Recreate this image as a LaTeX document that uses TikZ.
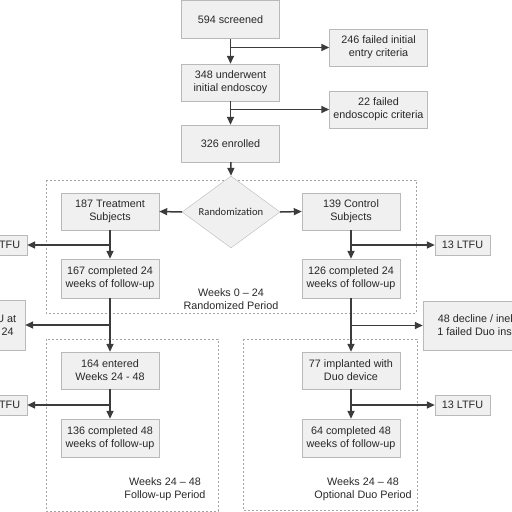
\documentclass[tikz,border=0pt]{standalone}
\usepackage{fontspec}
\setmainfont{Liberation Sans}
\newfontfamily\diafont{Carlito}
\usetikzlibrary{shapes.geometric, arrows.meta, positioning}
\definecolor{boxfill}{RGB}{240,240,240}
\definecolor{boxline}{RGB}{185,185,185}
\definecolor{arrowgray}{RGB}{60,60,60}
\definecolor{dashgray}{RGB}{165,165,165}
\definecolor{textgray}{RGB}{40,40,40}

\begin{document}
\begin{tikzpicture}[x=1pt, y=-1pt,
    box/.style={draw=boxline, fill=boxfill, align=center, text=textgray, minimum width=98pt, minimum height=37pt, inner sep=2pt, font=\fontsize{10.8}{13}\selectfont},
    smallbox/.style={box, minimum width=55pt, minimum height=20pt},
    decision/.style={diamond, draw=boxline, fill=boxfill, text=textgray, minimum width=98pt, minimum height=60pt, inner sep=0pt, font=\diafont\fontsize{10.6}{12}\selectfont},
    arr/.style={-{Triangle[length=8pt, width=7pt]}, line width=1.5pt, draw=arrowgray},
    period/.style={draw=dashgray, line width=0.6pt, dash pattern=on 2pt off 2pt},
    lbl/.style={align=center, text=textgray, font=\fontsize{10.8}{13}\selectfont}]
    \clip (0,0) rectangle (512,512);

    % Period frames
    \draw[period] (46,180) rectangle (416,313);
    \draw[period] (46,339) rectangle (218,511);
    \draw[period] (243,339) rectangle (417,510);

    % Screening and enrollment
    \node[box, minimum height=38pt] (screen) at (230.5,19.5) {594 screened};
    \node[box] (failentry) at (378.5,47.5) {246 failed initial\\entry criteria};
    \node[box] (endo) at (230.5,82.5) {348 underwent\\initial endoscoy};
    \node[box] (failendo) at (378.5,109.5) {22 failed\\endoscopic criteria};
    \node[box] (enrol) at (230.5,143.5) {326 enrolled};

    % Randomized period
    \node[decision] (rand) at (231,212) {Randomization};
    \node[box] (treat) at (110,211.5) {187 Treatment\\Subjects};
    \node[box] (ctrl) at (351,211.5) {139 Control\\Subjects};
    \node[smallbox] (ltfutreat) at (-0.5,245) {20 LTFU};
    \node[smallbox] (ltfuctrl) at (462.5,245) {13 LTFU};
    \node[box, minimum height=39pt] (donetreat) at (110,278.5) {167 completed 24\\weeks of follow-up};
    \node[box, minimum height=39pt] (donectrl) at (351,278.5) {126 completed 24\\weeks of follow-up};
    \node[lbl] (randlbl) at (231,299.5) {Weeks 0 -- 24\\Randomized Period};

    % Between periods
    \node[box, minimum width=65pt, minimum height=50pt] (ltfuwk) at (-7.5,325) {3 LTFU at\\Week 24};
    \node[box, minimum width=130pt, minimum height=49pt] (decline) at (488,325.5) {48 decline / ineligible\\1 failed Duo insertion};

    % Weeks 24 - 48
    \node[box] (entered) at (110,370.5) {164 entered\\Weeks 24 - 48};
    \node[box] (implant) at (351,370.5) {77 implanted with\\Duo device};
    \node[smallbox] (ltfufollow) at (-0.5,405) {28 LTFU};
    \node[smallbox] (ltfuduo) at (462.5,405) {13 LTFU};
    \node[box, minimum height=38pt] (donefollow) at (110,438) {136 completed 48\\weeks of follow-up};
    \node[box, minimum height=38pt] (doneduo) at (351,438) {64 completed 48\\weeks of follow-up};
    \node[lbl] (followlbl) at (165,489.5) {Weeks 24 -- 48\\Follow-up Period};
    \node[lbl] (duolbl) at (363,489.5) {Weeks 24 -- 48\\Optional Duo Period};

    % Main flow
    \draw[arr] (screen) -- (endo);
    \draw[arr] (screen.south |- failentry.west) -- (failentry.west);
    \draw[arr] (endo) -- (enrol);
    \draw[arr] (endo.south |- failendo.west) -- (failendo.west);
    \draw[arr] (enrol) -- (rand.north);
    \draw[arr] (rand.west) -- (treat.east);
    \draw[arr] (rand.east) -- (ctrl.west);

    % Treatment arm
    \draw[arr] (treat) -- (donetreat);
    \draw[arr] (treat.south |- ltfutreat.east) -- (ltfutreat.east);
    \draw[arr] (donetreat) -- (entered);
    \draw[arr] (donetreat.south |- ltfuwk.east) -- (ltfuwk.east);
    \draw[arr] (entered) -- (donefollow);
    \draw[arr] (entered.south |- ltfufollow.east) -- (ltfufollow.east);

    % Control arm
    \draw[arr] (ctrl) -- (donectrl);
    \draw[arr] (ctrl.south |- ltfuctrl.west) -- (ltfuctrl.west);
    \draw[arr] (donectrl) -- (implant);
    \draw[arr] (donectrl.south |- decline.west) -- (decline.west);
    \draw[arr] (implant) -- (doneduo);
    \draw[arr] (implant.south |- ltfuduo.west) -- (ltfuduo.west);
\end{tikzpicture}
\end{document}
